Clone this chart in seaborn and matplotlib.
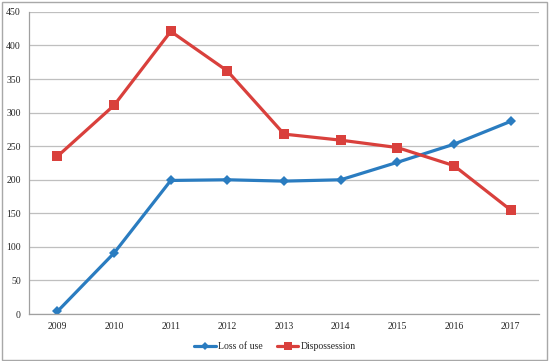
import matplotlib
matplotlib.use("Agg")
import matplotlib.pyplot as plt
import seaborn as sns
import pandas as pd
import numpy as np

# data
years = ["2009", "2010", "2011", "2012", "2013", "2014", "2015", "2016", "2017"]
loss_of_use = [4, 91, 199, 200, 198, 200, 226, 253, 287]
dispossession = [235, 311, 421, 362, 268, 259, 248, 221, 155]

sns.set_theme(style="white")
plt.rcParams['font.family'] = ['Liberation Serif', 'DejaVu Serif']

df = pd.DataFrame({
    "year": years * 2,
    "value": loss_of_use + dispossession,
    "series": ["Loss of use"] * len(years) + ["Dispossession"] * len(years),
})
df["x"] = list(range(len(years))) * 2

fig = plt.figure(figsize=(5.5, 3.61), dpi=100)
ax = fig.add_axes([0.053, 0.130, 0.927, 0.837])

palette = {"Loss of use": "#2A7CC0", "Dispossession": "#D9403C"}
sns.lineplot(data=df, x="x", y="value", hue="series", style="series",
             markers={"Loss of use": "D", "Dispossession": "s"},
             dashes=False, palette=palette, linewidth=2.3,
             markersize=5, markeredgewidth=0, ax=ax, legend=False)
# bigger squares for dispossession
for line in ax.get_lines():
    if line.get_marker() == "s":
        line.set_markersize(6.5)

ax.set_xlim(-0.5, len(years) - 0.5)
ax.set_ylim(0, 450)
ax.set_yticks(np.arange(0, 451, 50))
ax.set_xticks(np.arange(len(years)))
ax.set_xticklabels(years)
ax.set_xticks(np.arange(-0.5, len(years)), minor=True)
ax.tick_params(axis="x", which="major", length=0, labelsize=7, pad=6)
ax.tick_params(axis="x", which="minor", length=4, color="#A0A0A0", width=0.8)
ax.tick_params(axis="y", length=4, color="#A0A0A0", width=0.8, labelsize=7, pad=2)
ax.set_xlabel("")
ax.set_ylabel("")
ax.yaxis.grid(True, color="#BFBFBF", linewidth=0.9)
ax.set_axisbelow(True)
for side in ["top", "right"]:
    ax.spines[side].set_visible(False)
for side in ["left", "bottom"]:
    ax.spines[side].set_color("#A0A0A0")
    ax.spines[side].set_linewidth(0.9)

handles = [
    plt.Line2D([], [], color=palette["Loss of use"], marker="D", markersize=4,
               markeredgewidth=0, linewidth=2.3, label="Loss of use"),
    plt.Line2D([], [], color=palette["Dispossession"], marker="s", markersize=5.5,
               markeredgewidth=0, linewidth=2.3, label="Dispossession"),
]
fig.legend(handles=handles, loc="center", bbox_to_anchor=(0.5, 0.04), ncol=2,
           frameon=False, fontsize=7, handlelength=2.2, handletextpad=0.2,
           columnspacing=1.5)

# outer chart border
fig.patches.append(plt.Rectangle((0.003, 0.004), 0.992, 0.99, transform=fig.transFigure,
                                 fill=False, edgecolor="#A8A8A8", linewidth=1.0))

fig.savefig("out.png", dpi=100)
